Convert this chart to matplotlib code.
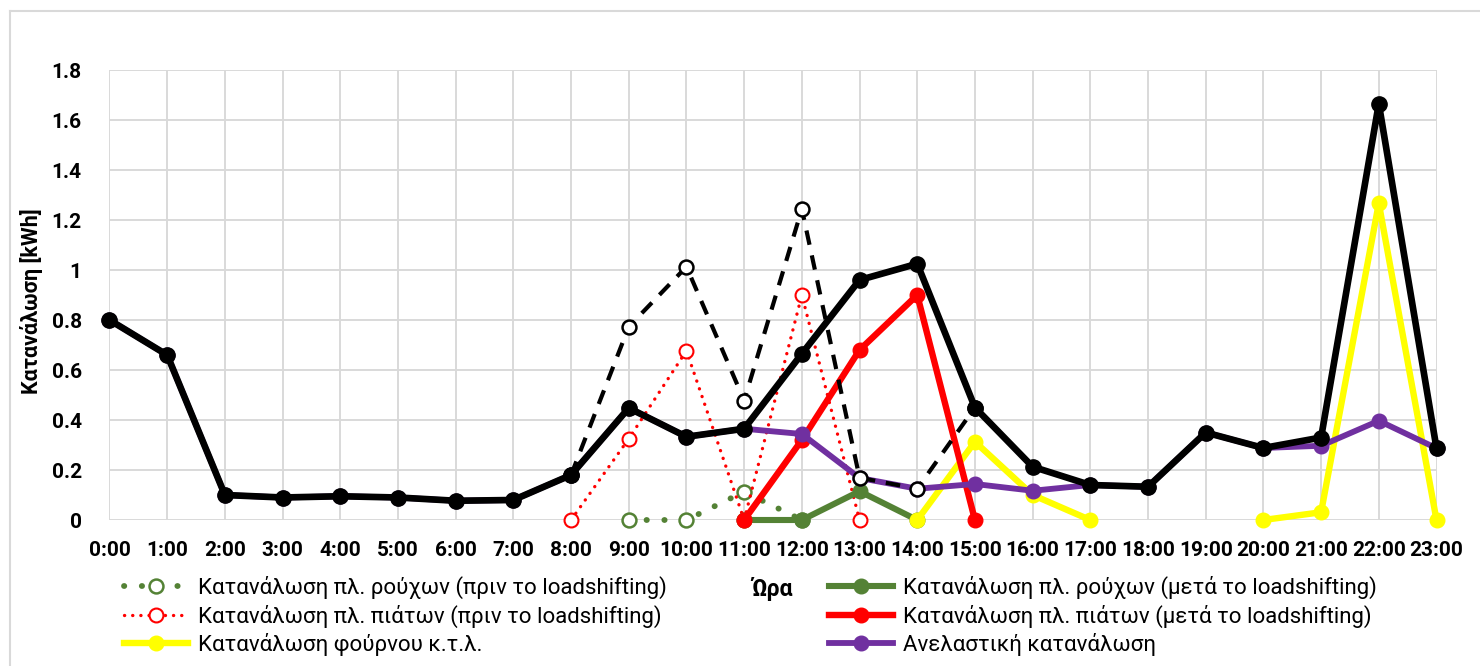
import numpy as np
import matplotlib
matplotlib.use("Agg")
import matplotlib.pyplot as plt
from matplotlib.lines import Line2D

plt.rcParams['font.family'] = ['Roboto', 'DejaVu Sans']

nan = np.nan

hours = [f"{h}:00" for h in range(24)]

# Total consumption after load shifting
total_after = [0.80, 0.66, 0.10, 0.09, 0.095, 0.09, 0.077, 0.08, 0.18, 0.448,
               0.333, 0.365, 0.665, 0.96, 1.025, 0.45, 0.213, 0.14, 0.133, 0.35,
               0.288, 0.33, 1.665, 0.287]
# Total consumption before load shifting (only where it differs)
total_before = [nan] * 8 + [0.18, 0.773, 1.013, 0.478, 1.244, 0.169, 0.125, 0.45] + [nan] * 8

clothes_before = [nan] * 9 + [0.0, 0.0, 0.113, 0.0] + [nan] * 11
dishes_before = [nan] * 8 + [0.0, 0.325, 0.677, 0.0, 0.9, 0.0] + [nan] * 10
oven = [nan] * 14 + [0.0, 0.313, 0.1, 0.0, nan, nan, 0.0, 0.031, 1.267, 0.0]
clothes_after = [nan] * 11 + [0.0, 0.0, 0.115, 0.0] + [nan] * 9
dishes_after = [nan] * 11 + [0.0, 0.32, 0.68, 0.9, 0.0] + [nan] * 8
inelastic = [0.80, 0.66, 0.10, 0.09, 0.095, 0.09, 0.077, 0.08, 0.18, 0.448,
             0.333, 0.365, 0.344, 0.168, 0.125, 0.144, 0.117, 0.14, 0.133, 0.35,
             0.288, 0.297, 0.397, 0.287]

labels = [
    "Κατανάλωση πλ. ρούχων (πριν το loadshifting)",
    "Κατανάλωση πλ. πιάτων (πριν το loadshifting)",
    "Κατανάλωση φούρνου κ.τ.λ.",
    "Κατανάλωση πλ. ρούχων (μετά το loadshifting)",
    "Κατανάλωση πλ. πιάτων (μετά το loadshifting)",
    "Ανελαστική κατανάλωση",
]

GREEN = "#548235"
RED = "#FF0000"
YELLOW = "#FFFF00"
PURPLE = "#7030A0"

W, H = 1480, 666
fig = plt.figure(figsize=(W / 100, H / 100), dpi=100)
ax = fig.add_axes([109.5 / W, 1 - 520 / H, (1436.5 - 109.5) / W, (520 - 70) / H])

x = np.arange(24)

h_cb, = ax.plot(x, clothes_before, color=GREEN, lw=4.2, linestyle=(0, (0.05, 3.0)),
                dash_capstyle='round', marker='o', ms=10, mfc='white', mec=GREEN,
                mew=1.8, clip_on=False, zorder=3)
h_db, = ax.plot(x, dishes_before, color=RED, lw=2.4, linestyle=(0, (0.05, 2.4)),
                dash_capstyle='round', marker='o', ms=10, mfc='white', mec=RED,
                mew=1.5, clip_on=False, zorder=3.1)
h_ca, = ax.plot(x, clothes_after, color=GREEN, lw=4.4, marker='o', ms=10.5,
                clip_on=False, zorder=3.2)
h_ov, = ax.plot(x, oven, color=YELLOW, lw=4.6, marker='o', ms=10.5,
                clip_on=False, zorder=3.3)
h_da, = ax.plot(x, dishes_after, color=RED, lw=4.6, marker='o', ms=10.5,
                clip_on=False, zorder=3.4)
h_in, = ax.plot(x, inelastic, color=PURPLE, lw=4.2, marker='o', ms=10.5,
                clip_on=False, zorder=3.5)
ax.plot(x, total_before, color='black', lw=3, linestyle=(0, (3.5, 2.6)),
        marker='o', ms=10, mfc='white', mec='black', mew=1.8,
        clip_on=False, zorder=3.6)
ax.plot(x, total_after, color='black', lw=4.8, marker='o', ms=11,
        clip_on=False, zorder=3.7)

ax.set_xlim(0, 23)
ax.set_ylim(0, 1.8)
ax.set_xticks(x)
ax.set_xticklabels(hours)
yt = np.round(np.arange(0, 1.81, 0.2), 1)
ax.set_yticks(yt)
ax.set_yticklabels([f"{v:g}" for v in yt])
ax.tick_params(length=0, labelsize=15)
ax.tick_params(axis='y', pad=20)
ax.tick_params(axis='x', pad=15)
for t in ax.get_xticklabels() + ax.get_yticklabels():
    t.set_fontweight('bold')
ax.grid(True, color='#d9d9d9', lw=1.4)
ax.set_axisbelow(True)
for s in ax.spines.values():
    s.set_visible(False)

fig.text(32 / W, 1 - 301 / H, "Κατανάλωση [kWh]", rotation=90, ha='center',
         va='center', fontsize=15.5, fontweight='bold')
fig.text(772 / W, 1 - 589 / H, "Ώρα", ha='center', va='center',
         fontsize=16.5, fontweight='bold')

# Chart border
fig.add_artist(Line2D([10 / W, 10 / W], [0, 1 - 11 / H], color='#d9d9d9', lw=1.5))
fig.add_artist(Line2D([10 / W, 1], [1 - 11 / H, 1 - 11 / H], color='#d9d9d9', lw=1.5))

leg_kw = dict(frameon=False, loc='center left', fontsize=16, handlelength=2.9,
              handletextpad=0.42, labelspacing=0.25, borderpad=0, borderaxespad=0)
fig.legend([h_cb, h_db, h_ov], labels[:3],
           bbox_to_anchor=(124 / W, 1 - 616 / H), **leg_kw)
fig.legend([h_ca, h_da, h_in], labels[3:],
           bbox_to_anchor=(829 / W, 1 - 616 / H), **leg_kw)

fig.savefig("out.png", dpi=100)
